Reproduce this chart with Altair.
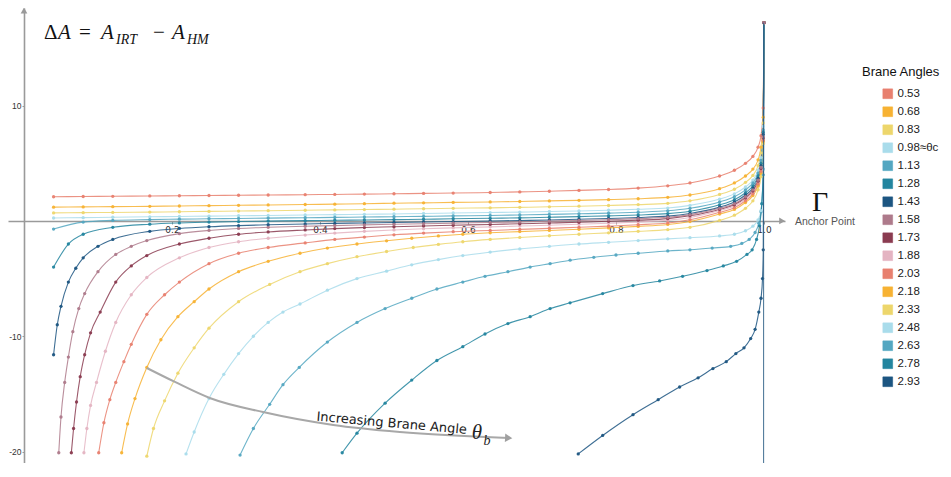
import altair as alt
import pandas as pd

# ---------------- data ----------------
ANGLES = ["0.53", "0.68", "0.83", "0.98", "1.13", "1.28", "1.43", "1.58", "1.73",
          "1.88", "2.03", "2.18", "2.33", "2.48", "2.63", "2.78", "2.93"]
COLORS = ["#E8806F", "#F7B233", "#EDD66C", "#A9DCEB", "#54A7C1", "#23859F", "#1C5581",
          "#AE7A8B", "#8A3B50", "#E4B4C2", "#E8806F", "#F7B233", "#EDD66C", "#A9DCEB",
          "#54A7C1", "#23859F", "#1C5581"]

MID_X = [0.04, 0.08, 0.12, 0.17, 0.21, 0.25, 0.29, 0.33, 0.38, 0.42, 0.46, 0.5, 0.54,
         0.58, 0.63, 0.67, 0.71, 0.75, 0.79, 0.83, 0.87]
TAIL_X = [0.9, 0.94, 0.96, 0.975, 0.985, 0.992, 0.996, 0.999, 1.0]
X_UP = MID_X + TAIL_X

Y_053 = [2.10, 2.12, 2.14, 2.17, 2.19, 2.21, 2.23, 2.25, 2.28, 2.30, 2.33, 2.36, 2.39, 2.42,
         2.47, 2.52, 2.58, 2.65, 2.73, 2.85, 3.05, 3.3, 3.9, 4.4, 5.0, 5.6, 6.4, 7.4, 9.8, 17.2]
Y_068 = [1.20, 1.22, 1.24, 1.27, 1.30, 1.33, 1.36, 1.39, 1.43, 1.46, 1.50, 1.54, 1.57, 1.61,
         1.65, 1.69, 1.74, 1.79, 1.85, 1.93, 2.05, 2.25, 2.8, 3.3, 3.9, 4.5, 5.3, 6.4, 9.0, 17.2]
Y_083 = [0.70, 0.72, 0.74, 0.77, 0.80, 0.83, 0.86, 0.89, 0.93, 0.96, 0.99, 1.02, 1.06, 1.10,
         1.14, 1.18, 1.23, 1.28, 1.34, 1.42, 1.53, 1.75, 2.3, 2.75, 3.35, 3.95, 4.8, 5.9, 8.5, 17.2]
Y_098 = [0.26, 0.29, 0.32, 0.36, 0.39, 0.42, 0.45, 0.48, 0.52, 0.55, 0.58, 0.61, 0.65, 0.69,
         0.73, 0.77, 0.82, 0.87, 0.93, 1.01, 1.12, 1.35, 1.9, 2.35, 2.95, 3.55, 4.4, 5.5, 8.2, 17.2]
Y_113 = [-0.70, -0.10, 0.05, 0.12, 0.16, 0.19, 0.22, 0.25, 0.28, 0.31, 0.34, 0.37, 0.40, 0.44,
         0.48, 0.52, 0.57, 0.62, 0.68, 0.76, 0.88, 1.1, 1.65, 2.1, 2.7, 3.3, 4.15, 5.25, 7.9, 17.2]

X_128 = [0.04, 0.06] + MID_X[1:] + TAIL_X
Y_128 = [-4.0, -2.0, -1.15, -0.55, -0.28, -0.17, -0.10, -0.05, -0.01, 0.03, 0.06, 0.09, 0.12,
         0.15, 0.19, 0.23, 0.27, 0.32, 0.38, 0.44, 0.52, 0.64,
         0.85, 1.4, 1.85, 2.45, 3.05, 3.9, 5.0, 7.7, 17.2]

X_143 = [0.04, 0.045, 0.05, 0.06, 0.07, 0.08, 0.10, 0.12, 0.17, 0.21, 0.25, 0.29, 0.33, 0.38,
         0.42, 0.46, 0.5, 0.54, 0.58, 0.63, 0.67, 0.71, 0.75, 0.79, 0.83, 0.87] + TAIL_X
Y_143 = [-11.6, -9.0, -7.4, -5.3, -4.1, -3.2, -2.2, -1.6, -0.9, -0.65, -0.5, -0.4, -0.33, -0.26,
         -0.21, -0.17, -0.13, -0.09, -0.05, 0.0, 0.04, 0.09, 0.15, 0.22, 0.30, 0.42,
         0.65, 1.2, 1.65, 2.25, 2.85, 3.7, 4.8, 7.5, 17.2]

C_158 = [(0.047, -20.1), (0.05, -17.0), (0.055, -14.0), (0.06, -11.8), (0.066, -9.6), (0.074, -7.6),
         (0.082, -6.3), (0.1, -4.4), (0.124, -2.9), (0.145, -2.2), (0.166, -1.7), (0.21, -1.1),
         (0.25, -0.82), (0.29, -0.65), (0.33, -0.55), (0.38, -0.46), (0.42, -0.4), (0.46, -0.34),
         (0.5, -0.29), (0.54, -0.24), (0.58, -0.19), (0.63, -0.13), (0.67, -0.08), (0.71, -0.02),
         (0.75, 0.04), (0.79, 0.11), (0.83, 0.2), (0.87, 0.32), (0.9, 0.55), (0.94, 1.1), (0.96, 1.5),
         (0.975, 2.1), (0.985, 2.7), (0.992, 3.55), (0.996, 4.65), (0.999, 7.3), (1.0, 17.2)]
C_173 = [(0.064, -20.1), (0.067, -18.0), (0.071, -15.7), (0.076, -13.5), (0.082, -11.6), (0.09, -9.7),
         (0.103, -7.9), (0.124, -5.3), (0.145, -3.9), (0.166, -3.0), (0.21, -2.0), (0.25, -1.5),
         (0.29, -1.15), (0.33, -0.95), (0.38, -0.78), (0.42, -0.66), (0.46, -0.57), (0.5, -0.5),
         (0.54, -0.43), (0.58, -0.37), (0.63, -0.3), (0.67, -0.24), (0.71, -0.18), (0.75, -0.11),
         (0.79, -0.03), (0.83, 0.07), (0.87, 0.2), (0.9, 0.45), (0.94, 1.0), (0.96, 1.4), (0.975, 2.0),
         (0.985, 2.6), (0.992, 3.45), (0.996, 4.55), (0.999, 7.2), (1.0, 17.2)]
C_188 = [(0.081, -20.1), (0.085, -18.0), (0.09, -16.0), (0.098, -14.0), (0.11, -11.3), (0.124, -8.8),
         (0.145, -6.4), (0.166, -4.9), (0.21, -3.2), (0.25, -2.3), (0.29, -1.8), (0.33, -1.5),
         (0.38, -1.22), (0.42, -1.05), (0.46, -0.9), (0.5, -0.78), (0.54, -0.68), (0.58, -0.6),
         (0.63, -0.51), (0.67, -0.44), (0.71, -0.37), (0.75, -0.29), (0.79, -0.2), (0.83, -0.09),
         (0.87, 0.06), (0.9, 0.3), (0.94, 0.9), (0.96, 1.3), (0.975, 1.9), (0.985, 2.5), (0.992, 3.35),
         (0.996, 4.45), (0.999, 7.1), (1.0, 17.2)]
C_203 = [(0.101, -20.1), (0.108, -17.5), (0.116, -15.5), (0.124, -14.0), (0.135, -12.2), (0.145, -10.7),
         (0.166, -8.1), (0.19, -6.4), (0.21, -5.3), (0.25, -3.7), (0.29, -2.8), (0.33, -2.3), (0.38, -1.9),
         (0.42, -1.6), (0.46, -1.4), (0.5, -1.2), (0.54, -1.05), (0.58, -0.93), (0.63, -0.82),
         (0.67, -0.73), (0.71, -0.64), (0.75, -0.55), (0.79, -0.45), (0.83, -0.33), (0.87, -0.17),
         (0.9, 0.1), (0.94, 0.75), (0.96, 1.15), (0.975, 1.75), (0.985, 2.35), (0.992, 3.2),
         (0.996, 4.3), (0.999, 7.0), (1.0, 17.2)]
C_218 = [(0.132, -20.1), (0.14, -17.6), (0.15, -15.4), (0.166, -12.7), (0.185, -10.3), (0.208, -8.3),
         (0.23, -7.0), (0.25, -5.9), (0.29, -4.4), (0.33, -3.5), (0.373, -2.8), (0.41, -2.35),
         (0.45, -2.0), (0.49, -1.72), (0.524, -1.5), (0.56, -1.3), (0.593, -1.15), (0.63, -1.02),
         (0.67, -0.92), (0.71, -0.82), (0.75, -0.72), (0.79, -0.6), (0.83, -0.47), (0.87, -0.3),
         (0.9, -0.05), (0.94, 0.6), (0.96, 1.0), (0.975, 1.6), (0.985, 2.2), (0.992, 3.05),
         (0.996, 4.15), (0.999, 6.9), (1.0, 17.2)]
C_233 = [(0.166, -20.4), (0.175, -18.0), (0.19, -15.6), (0.208, -13.2), (0.23, -11.0), (0.25, -9.3),
         (0.29, -7.0), (0.332, -5.5), (0.373, -4.4), (0.41, -3.7), (0.45, -3.1), (0.49, -2.65),
         (0.526, -2.3), (0.56, -2.03), (0.593, -1.8), (0.63, -1.6), (0.67, -1.43), (0.71, -1.28),
         (0.75, -1.15), (0.79, -1.03), (0.83, -0.9), (0.87, -0.75), (0.9, -0.55), (0.94, 0.05),
         (0.96, 0.5), (0.975, 1.1), (0.985, 1.75), (0.992, 2.7), (0.996, 3.85), (0.999, 6.7), (1.0, 17.2)]
C_248 = [(0.219, -20.2), (0.23, -18.3), (0.25, -15.4), (0.27, -13.3), (0.29, -11.5), (0.31, -10.0),
         (0.33, -8.8), (0.35, -7.9), (0.373, -7.2), (0.41, -6.0), (0.45, -5.0), (0.49, -4.35),
         (0.524, -3.8), (0.56, -3.35), (0.593, -3.0), (0.63, -2.7), (0.67, -2.42), (0.71, -2.2),
         (0.75, -2.0), (0.79, -1.85), (0.83, -1.7), (0.87, -1.55), (0.9, -1.45), (0.94, -1.3),
         (0.96, -1.15), (0.975, -0.85), (0.985, -0.45), (0.992, 0.1), (0.996, 0.9), (0.999, 4.5), (1.0, 17.2)]
C_263 = [(0.292, -20.3), (0.31, -18.0), (0.332, -15.9), (0.35, -14.2), (0.372, -12.7), (0.41, -10.5),
         (0.45, -8.8), (0.488, -7.6), (0.524, -6.7), (0.558, -5.9), (0.593, -5.3), (0.623, -4.8),
         (0.654, -4.4), (0.684, -4.0), (0.711, -3.7), (0.738, -3.4), (0.77, -3.15), (0.8, -2.95),
         (0.83, -2.8), (0.87, -2.6), (0.9, -2.5), (0.93, -2.35), (0.955, -2.2), (0.97, -1.95),
         (0.98, -1.6), (0.988, -1.0), (0.993, -0.2), (0.996, 0.8), (0.999, 4.0), (1.0, 17.2)]
C_278 = [(0.43, -20.1), (0.45, -18.4), (0.488, -15.8), (0.524, -13.8), (0.558, -12.1), (0.593, -10.9),
         (0.623, -9.8), (0.654, -8.9), (0.684, -8.3), (0.711, -7.6), (0.738, -7.1), (0.782, -6.3),
         (0.823, -5.6), (0.859, -5.2), (0.89, -4.8), (0.923, -4.3), (0.945, -3.9), (0.963, -3.5),
         (0.977, -2.9), (0.984, -2.5), (0.99, -1.6), (0.994, -0.4), (0.997, 1.5), (0.999, 4.5), (1.0, 17.2)]
C_293 = [(0.749, -20.2), (0.782, -18.6), (0.823, -16.8), (0.857, -15.5), (0.886, -14.4), (0.911, -13.6),
         (0.931, -12.8), (0.949, -12.2), (0.962, -11.5), (0.973, -11.0), (0.982, -10.2), (0.988, -9.4),
         (0.993, -7.9), (0.996, -6.7), (0.998, -5.0), (0.999, -2.5), (1.0, 17.2)]

SERIES = {
    "0.53": list(zip(X_UP, Y_053)), "0.68": list(zip(X_UP, Y_068)),
    "0.83": list(zip(X_UP, Y_083)), "0.98": list(zip(X_UP, Y_098)),
    "1.13": list(zip(X_UP, Y_113)), "1.28": list(zip(X_128, Y_128)),
    "1.43": list(zip(X_143, Y_143)), "1.58": C_158, "1.73": C_173, "1.88": C_188,
    "2.03": C_203, "2.18": C_218, "2.33": C_233, "2.48": C_248, "2.63": C_263,
    "2.78": C_278, "2.93": C_293,
}

# vertical asymptote line at the anchor point limit
ASYM_X = [0.9995]
ASYM_Y = [-21.0]
ASYM_Y2 = [17.2]

# annotation arrow (Increasing brane angle)
ARROW_X = [0.166, 0.204, 0.251, 0.323, 0.418, 0.508, 0.655]
ARROW_Y = [-12.75, -13.96, -15.35, -16.57, -17.69, -18.30, -18.82]

# title pieces  ΔA = A_IRT − A_HM
TITLE_UP_T = ["Δ", "=", "−"]
TITLE_UP_X = [0.027, 0.0743, 0.1743]
TITLE_IT_T = ["A", "A", "A"]
TITLE_IT_X = [0.0459, 0.104, 0.20]
TITLE_SUB_T = ["IRT", "HM"]
TITLE_SUB_X = [0.1243, 0.2203]

# ---------------- frames ----------------
rows = []
for a in ANGLES:
    for i, (g, v) in enumerate(SERIES[a]):
        rows.append({"angle": a, "gamma": g, "dA": v, "i": i})
df = pd.DataFrame(rows)

xs = alt.Scale(domain=[-0.0216, 1.0284], nice=False, zero=False)
ys = alt.Scale(domain=[-20.99, 18.47], nice=False, zero=False)
cs = alt.Scale(domain=ANGLES, range=COLORS)

x_axis = alt.Axis(values=[0.2, 0.4, 0.6, 0.8, 1.0], format=".1f", offset=-242, title=None,
                  grid=False, domainColor="#9a9a9a", domainWidth=1.6, tickColor="#9a9a9a",
                  tickSize=3, labelFontSize=9, labelColor="#333", labelFont="DejaVu Sans",
                  labelPadding=1, labelFlush=False)
y_axis = alt.Axis(values=[-20, -10, 10], offset=-16, title=None, grid=False,
                  domainColor="#9a9a9a", domainWidth=1.6, tickColor="#9a9a9a", tickSize=2,
                  labelFontSize=8.5, labelColor="#333", labelFont="Liberation Sans",
                  labelPadding=1,
                  labelExpr="datum.value < 0 ? '-' + abs(datum.value) : '' + datum.value")

legend = alt.Legend(title=None, orient="none", legendX=874, legendY=80, symbolType="square",
                    symbolSize=95, labelFontSize=11.5, labelFont="Liberation Sans",
                    labelColor="#222", rowPadding=5, padding=0, labelOffset=4,
                    symbolStrokeWidth=0.6, symbolOpacity=1, symbolStrokeColor="#8a8a8a",
                    labelExpr="datum.label == '0.98' ? '0.98≈θc' : datum.label")


def X(field):
    return alt.X(field, scale=xs, axis=x_axis)


def Y(field):
    return alt.Y(field, scale=ys, axis=y_axis)


base = alt.Chart(df).encode(x=X("gamma:Q"), y=Y("dA:Q"), order=alt.Order("i:Q"))
lines = base.mark_line(interpolate="monotone", strokeWidth=1.1, opacity=0.85, clip=True).encode(
    color=alt.Color("angle:N", scale=cs, legend=legend))
points = base.mark_point(filled=True, size=11, opacity=0.95, clip=True).encode(
    color=alt.Color("angle:N", scale=cs, legend=legend))


def txt(frame, **kw):
    return alt.Chart(pd.DataFrame(frame)).mark_text(**kw).encode(
        x=X("x:Q"), y=Y("y:Q"), text="t:N")


asym = alt.Chart(pd.DataFrame({"x": ASYM_X, "y": ASYM_Y, "y2": ASYM_Y2})).mark_rule(
    color="#2d5f86", strokeWidth=1, opacity=0.9).encode(x=X("x:Q"), y=Y("y:Q"), y2="y2:Q")

arrow_line = alt.Chart(pd.DataFrame({"x": ARROW_X, "y": ARROW_Y,
                                     "i": list(range(len(ARROW_X)))})).mark_line(
    interpolate="monotone", color="#a8a8a8", strokeWidth=2).encode(
    x=X("x:Q"), y=Y("y:Q"), order="i:Q")
arrow_head = alt.Chart(pd.DataFrame({"x": [ARROW_X[-1]], "y": [ARROW_Y[-1]]})).mark_point(
    shape="triangle-right", filled=True, color="#a0a0a0", size=70, opacity=1, angle=3).encode(
    x=X("x:Q"), y=Y("y:Q"))

axis_heads = alt.Chart(pd.DataFrame({"x": [1.0245, 0.0], "y": [0.0, 18.25],
                                     "s": ["triangle-right", "triangle-up"]})).mark_point(
    filled=True, color="#9a9a9a", size=45, opacity=1).encode(
    x=X("x:Q"), y=Y("y:Q"), shape=alt.Shape("s:N", scale=None))

title_up = txt({"x": TITLE_UP_X, "y": [15.78] * 3, "t": TITLE_UP_T},
               font="Liberation Serif", fontSize=21, align="left", baseline="alphabetic",
               color="#111")
title_it = txt({"x": TITLE_IT_X, "y": [15.78] * 3, "t": TITLE_IT_T},
               font="Liberation Serif", fontStyle="italic", fontSize=21, align="left",
               baseline="alphabetic", color="#111")
title_sub = txt({"x": TITLE_SUB_X, "y": [15.35, 15.35], "t": TITLE_SUB_T},
                font="Liberation Serif", fontStyle="italic", fontSize=14, align="left",
                baseline="alphabetic", color="#111")

inc_text = txt({"x": [0.497], "y": [-17.55], "t": ["Increasing Brane Angle"]},
               font="DejaVu Sans", fontSize=13, align="center", baseline="middle",
               angle=5, color="#222")
theta_text = txt({"x": [0.605], "y": [-18.4], "t": ["θ"]}, font="Liberation Serif",
                 fontStyle="italic", fontSize=21, align="left", baseline="middle", color="#222")
theta_sub = txt({"x": [0.621], "y": [-19.1], "t": ["b"]}, font="Liberation Serif",
                fontStyle="italic", fontSize=14, align="left", baseline="middle", color="#222")

gamma_text = txt({"x": [1.0757], "y": [1.6], "t": ["Γ"]}, font="Liberation Serif",
                 fontSize=28, align="center", baseline="middle", color="#111")
anchor_text = txt({"x": [1.0824], "y": [-0.1], "t": ["Anchor Point"]}, font="Liberation Sans",
                  fontSize=10.5, align="center", baseline="middle", color="#555")
legend_title = txt({"x": [1.1324], "y": [12.92], "t": ["Brane Angles"]}, font="Liberation Sans",
                   fontSize=13, align="left", baseline="middle", color="#111")

chart = alt.layer(
    lines, points, asym, arrow_line, arrow_head, axis_heads,
    title_up, title_it, title_sub, inc_text, theta_text, theta_sub,
    gamma_text, anchor_text, legend_title,
).properties(
    width=777, height=455,
    autosize=alt.AutoSizeParams(type="none"),
    padding={"left": 0, "top": 0, "right": 158, "bottom": 0},
).configure_view(stroke=None)

chart.save("out.html", embed_options={"renderer": "svg", "actions": False})
